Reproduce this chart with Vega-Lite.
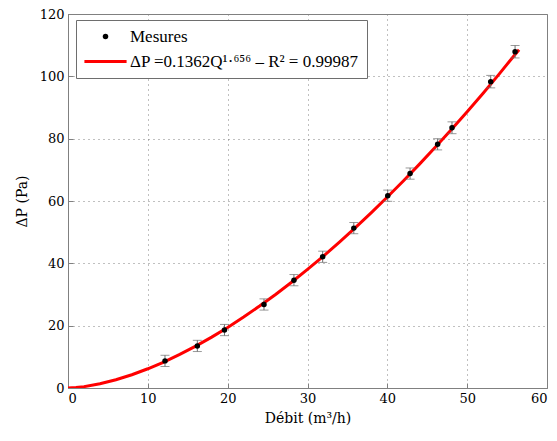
{
  "$schema": "https://vega.github.io/schema/vega-lite/v6.json",
  "width": 479,
  "height": 374,
  "autosize": {"type": "none"},
  "padding": {"left": 68, "top": 14, "right": 10, "bottom": 53},
  "background": "white",
  "config": {
    "view": {"stroke": "#808080", "strokeWidth": 1},
    "font": "Liberation Serif",
    "axis": {
      "labelColor": "black",
      "titleColor": "black",
      "titleFontWeight": "normal",
      "domainColor": "#808080",
      "tickColor": "#808080",
      "gridColor": "#808080",
      "gridDash": [1, 4],
      "gridOpacity": 1,
      "tickSize": -5,
      "labelPadding": 9
    },
    "legend": {
      "orient": "none",
      "legendX": 8,
      "legendY": 6,
      "strokeColor": "#6e6e6e",
      "fillColor": "white",
      "padding": 8,
      "labelFont": "Liberation Serif",
      "labelFontSize": 17,
      "labelColor": "black",
      "labelLimit": 400,
      "symbolOffset": 13,
      "labelOffset": 16,
      "rowPadding": 6,
      "symbolStrokeWidth": 3,
      "symbolSize": 30
    }
  },
  "datasets": {
    "mes": [
      {"q": 12.15, "dp": 8.7, "lo": 6.9, "hi": 10.5, "s": "Mesures"},
      {"q": 16.2, "dp": 13.5, "lo": 11.7, "hi": 15.3, "s": "Mesures"},
      {"q": 19.6, "dp": 18.6, "lo": 16.8, "hi": 20.4, "s": "Mesures"},
      {"q": 24.55, "dp": 26.8, "lo": 25.0, "hi": 28.6, "s": "Mesures"},
      {"q": 28.3, "dp": 34.6, "lo": 32.8, "hi": 36.4, "s": "Mesures"},
      {"q": 31.9, "dp": 42.1, "lo": 40.3, "hi": 43.9, "s": "Mesures"},
      {"q": 35.8, "dp": 51.3, "lo": 49.5, "hi": 53.1, "s": "Mesures"},
      {"q": 40.05, "dp": 61.7, "lo": 59.9, "hi": 63.5, "s": "Mesures"},
      {"q": 42.85, "dp": 68.8, "lo": 67.0, "hi": 70.6, "s": "Mesures"},
      {"q": 46.3, "dp": 78.2, "lo": 76.4, "hi": 80.0, "s": "Mesures"},
      {"q": 48.1, "dp": 83.5, "lo": 81.6, "hi": 85.4, "s": "Mesures"},
      {"q": 52.95, "dp": 98.3, "lo": 96.3, "hi": 100.3, "s": "Mesures"},
      {"q": 56.0, "dp": 107.9, "lo": 105.9, "hi": 109.9, "s": "Mesures"}
    ],
    "fit": [
      {"q": 0, "dp": 0, "s": "ΔP =0.1362Q¹·⁶⁵⁶ – R² = 0.99987"},
      {"q": 1, "dp": 0.14, "s": "ΔP =0.1362Q¹·⁶⁵⁶ – R² = 0.99987"},
      {"q": 2, "dp": 0.43, "s": "ΔP =0.1362Q¹·⁶⁵⁶ – R² = 0.99987"},
      {"q": 4, "dp": 1.35, "s": "ΔP =0.1362Q¹·⁶⁵⁶ – R² = 0.99987"},
      {"q": 6, "dp": 2.65, "s": "ΔP =0.1362Q¹·⁶⁵⁶ – R² = 0.99987"},
      {"q": 8, "dp": 4.26, "s": "ΔP =0.1362Q¹·⁶⁵⁶ – R² = 0.99987"},
      {"q": 10, "dp": 6.17, "s": "ΔP =0.1362Q¹·⁶⁵⁶ – R² = 0.99987"},
      {"q": 12, "dp": 8.34, "s": "ΔP =0.1362Q¹·⁶⁵⁶ – R² = 0.99987"},
      {"q": 14, "dp": 10.77, "s": "ΔP =0.1362Q¹·⁶⁵⁶ – R² = 0.99987"},
      {"q": 16, "dp": 13.43, "s": "ΔP =0.1362Q¹·⁶⁵⁶ – R² = 0.99987"},
      {"q": 18, "dp": 16.33, "s": "ΔP =0.1362Q¹·⁶⁵⁶ – R² = 0.99987"},
      {"q": 20, "dp": 19.44, "s": "ΔP =0.1362Q¹·⁶⁵⁶ – R² = 0.99987"},
      {"q": 22, "dp": 22.76, "s": "ΔP =0.1362Q¹·⁶⁵⁶ – R² = 0.99987"},
      {"q": 24, "dp": 26.29, "s": "ΔP =0.1362Q¹·⁶⁵⁶ – R² = 0.99987"},
      {"q": 26, "dp": 30.02, "s": "ΔP =0.1362Q¹·⁶⁵⁶ – R² = 0.99987"},
      {"q": 28, "dp": 33.94, "s": "ΔP =0.1362Q¹·⁶⁵⁶ – R² = 0.99987"},
      {"q": 30, "dp": 38.05, "s": "ΔP =0.1362Q¹·⁶⁵⁶ – R² = 0.99987"},
      {"q": 32, "dp": 42.33, "s": "ΔP =0.1362Q¹·⁶⁵⁶ – R² = 0.99987"},
      {"q": 34, "dp": 46.81, "s": "ΔP =0.1362Q¹·⁶⁵⁶ – R² = 0.99987"},
      {"q": 36, "dp": 51.46, "s": "ΔP =0.1362Q¹·⁶⁵⁶ – R² = 0.99987"},
      {"q": 38, "dp": 56.28, "s": "ΔP =0.1362Q¹·⁶⁵⁶ – R² = 0.99987"},
      {"q": 40, "dp": 61.27, "s": "ΔP =0.1362Q¹·⁶⁵⁶ – R² = 0.99987"},
      {"q": 42, "dp": 66.42, "s": "ΔP =0.1362Q¹·⁶⁵⁶ – R² = 0.99987"},
      {"q": 44, "dp": 71.74, "s": "ΔP =0.1362Q¹·⁶⁵⁶ – R² = 0.99987"},
      {"q": 46, "dp": 77.22, "s": "ΔP =0.1362Q¹·⁶⁵⁶ – R² = 0.99987"},
      {"q": 48, "dp": 82.86, "s": "ΔP =0.1362Q¹·⁶⁵⁶ – R² = 0.99987"},
      {"q": 50, "dp": 88.65, "s": "ΔP =0.1362Q¹·⁶⁵⁶ – R² = 0.99987"},
      {"q": 52, "dp": 94.6, "s": "ΔP =0.1362Q¹·⁶⁵⁶ – R² = 0.99987"},
      {"q": 54, "dp": 100.72, "s": "ΔP =0.1362Q¹·⁶⁵⁶ – R² = 0.99987"},
      {"q": 56, "dp": 107.0, "s": "ΔP =0.1362Q¹·⁶⁵⁶ – R² = 0.99987"},
      {"q": 56.5, "dp": 108.55, "s": "ΔP =0.1362Q¹·⁶⁵⁶ – R² = 0.99987"}
    ]
  },
  "layer": [
    {
      "data": {"name": "fit"},
      "mark": {"type": "line", "strokeWidth": 3, "clip": true},
      "encoding": {
        "x": {
          "field": "q", "type": "quantitative",
          "scale": {"domain": [0, 60], "nice": false},
          "axis": {"values": [0, 10, 20, 30, 40, 50, 60], "title": "Débit (m³/h)", "grid": true, "titlePadding": 6,
                   "labelFont": "DejaVu Serif", "titleFont": "DejaVu Serif", "labelFontSize": 13, "titleFontSize": 14, "labelColor": "black"}
        },
        "y": {
          "field": "dp", "type": "quantitative",
          "scale": {"domain": [0, 120], "nice": false},
          "axis": {"values": [0, 20, 40, 60, 80, 100, 120], "title": "ΔP (Pa)", "grid": true, "titlePadding": 10,
                   "labelFont": "DejaVu Serif", "titleFont": "DejaVu Serif", "labelFontSize": 13, "titleFontSize": 14, "labelColor": "black"}
        },
        "stroke": {
          "field": "s", "type": "nominal",
          "scale": {"domain": ["Mesures", "ΔP =0.1362Q¹·⁶⁵⁶ – R² = 0.99987"], "range": ["transparent", "red"]},
          "legend": {"title": null}
        }
      }
    },
    {
      "data": {"name": "mes"},
      "mark": {"type": "rule", "color": "#6e6e6e", "strokeWidth": 1},
      "encoding": {"x": {"field": "q", "type": "quantitative"}, "y": {"field": "lo", "type": "quantitative"}, "y2": {"field": "hi"}}
    },
    {
      "data": {"name": "mes"},
      "mark": {"type": "tick", "color": "#6e6e6e", "thickness": 1, "size": 9, "orient": "horizontal"},
      "encoding": {"x": {"field": "q", "type": "quantitative"}, "y": {"field": "lo", "type": "quantitative"}}
    },
    {
      "data": {"name": "mes"},
      "mark": {"type": "tick", "color": "#6e6e6e", "thickness": 1, "size": 9, "orient": "horizontal"},
      "encoding": {"x": {"field": "q", "type": "quantitative"}, "y": {"field": "hi", "type": "quantitative"}}
    },
    {
      "data": {"name": "mes"},
      "mark": {"type": "point", "filled": true, "size": 30, "opacity": 1},
      "encoding": {
        "x": {"field": "q", "type": "quantitative"},
        "y": {"field": "dp", "type": "quantitative"},
        "fill": {
          "field": "s", "type": "nominal",
          "scale": {"domain": ["Mesures", "ΔP =0.1362Q¹·⁶⁵⁶ – R² = 0.99987"], "range": ["black", "red"]},
          "legend": {"title": null}
        },
        "shape": {
          "field": "s", "type": "nominal",
          "scale": {"domain": ["Mesures", "ΔP =0.1362Q¹·⁶⁵⁶ – R² = 0.99987"], "range": ["circle", "M-7.7,0H7.7"]},
          "legend": {"title": null}
        }
      }
    }
  ]
}
